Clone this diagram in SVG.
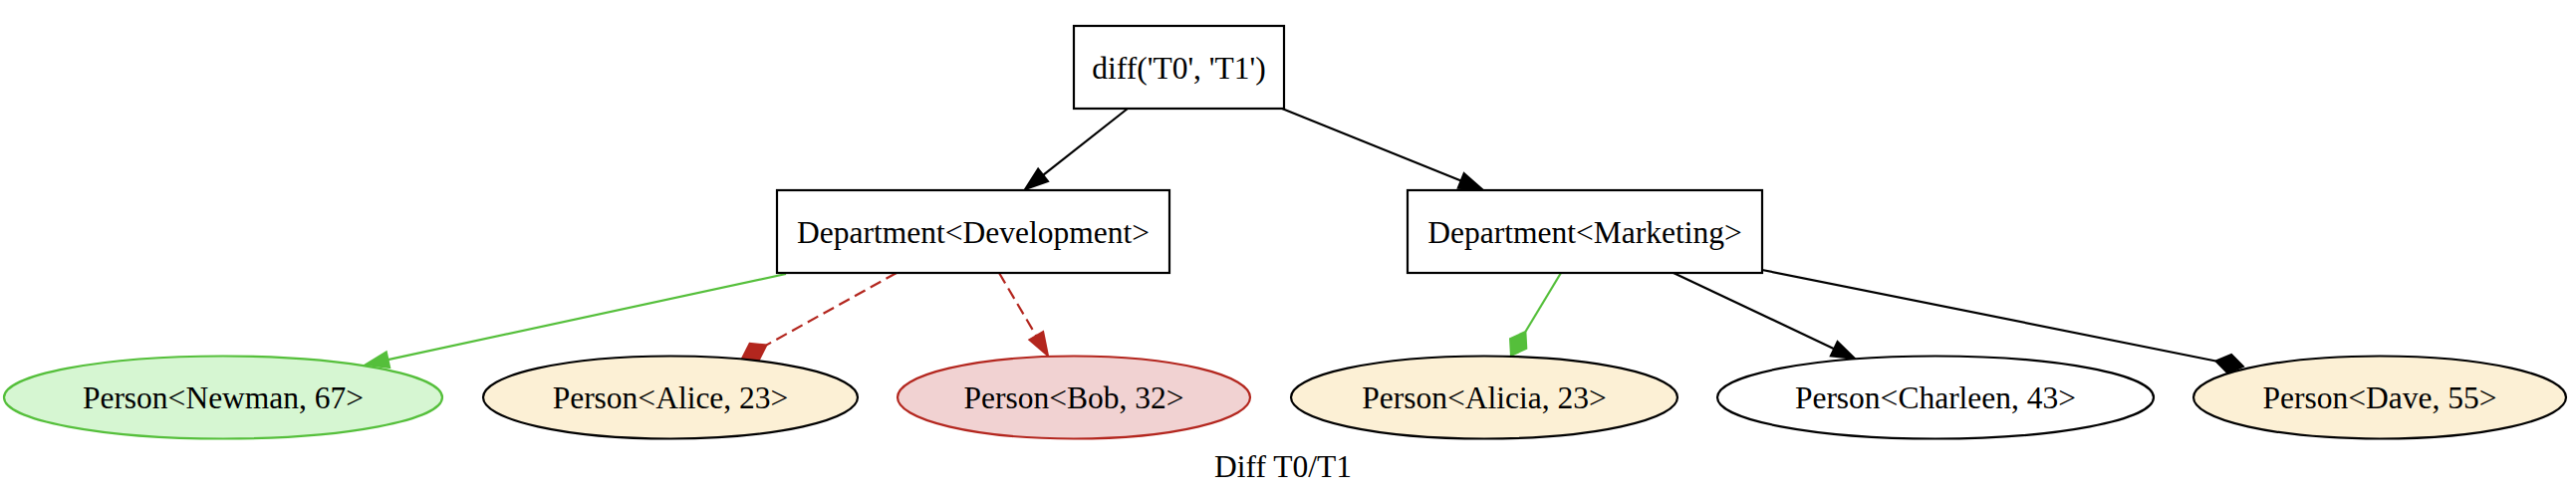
<svg xmlns="http://www.w3.org/2000/svg" width="2586" height="498" viewBox="0 0 2586 498">
<style>
text{font-family:"Liberation Serif","Times New Roman",serif;font-size:31.5px;text-anchor:middle;fill:#000}
.box{fill:#fff;stroke:#000;stroke-width:2.2}
.ell{stroke-width:2.2}
.plain{fill:#fff;stroke:#000}
.chg{fill:#fcf0d5;stroke:#000}
.add{fill:#d6f6d2;stroke:#55bf3b}
.del{fill:#f1d2d2;stroke:#b3261e}
.e{fill:none;stroke-width:2.2}
.k{stroke:#000}
.g{stroke:#55bf3b}
.r{stroke:#b3261e;stroke-dasharray:12,6}
</style>
<defs>
<marker id="ak" markerUnits="userSpaceOnUse" orient="auto" markerWidth="40" markerHeight="40" refX="0" refY="0" viewBox="-5 -20 40 40" overflow="visible"><path d="M0,-8 L23,0 L0,8 Z" fill="#000" stroke="#000" stroke-width="2"/></marker>
<marker id="ag" markerUnits="userSpaceOnUse" orient="auto" markerWidth="40" markerHeight="40" refX="0" refY="0" viewBox="-5 -20 40 40" overflow="visible"><path d="M0,-8 L23,0 L0,8 Z" fill="#55bf3b" stroke="#55bf3b" stroke-width="2"/></marker>
<marker id="ar" markerUnits="userSpaceOnUse" orient="auto" markerWidth="40" markerHeight="40" refX="0" refY="0" viewBox="-5 -20 40 40" overflow="visible"><path d="M0,-8 L23,0 L0,8 Z" fill="#b3261e" stroke="#b3261e" stroke-width="2"/></marker>
<marker id="dk" markerUnits="userSpaceOnUse" orient="auto" markerWidth="40" markerHeight="40" refX="0" refY="0" viewBox="-5 -20 40 40" overflow="visible"><path d="M0,0 L14,-9.5 L28,0 L14,9.5 Z" fill="#000" stroke="#000" stroke-width="2"/></marker>
<marker id="dg" markerUnits="userSpaceOnUse" orient="auto" markerWidth="40" markerHeight="40" refX="0" refY="0" viewBox="-5 -20 40 40" overflow="visible"><path d="M0,0 L14,-9.5 L28,0 L14,9.5 Z" fill="#55bf3b" stroke="#55bf3b" stroke-width="2"/></marker>
<marker id="dr" markerUnits="userSpaceOnUse" orient="auto" markerWidth="40" markerHeight="40" refX="0" refY="0" viewBox="-5 -20 40 40" overflow="visible"><path d="M0,0 L14,-9.5 L28,0 L14,9.5 Z" fill="#b3261e" stroke="#b3261e" stroke-width="2"/></marker>
</defs>
<rect width="2586" height="498" fill="#fff"/>
<g id="connectors">
<path class="e k" d="M1132,109 L1047.1,175.8" marker-end="url(#ak)"/>
<path class="e k" d="M1287,109 L1466.7,181.4" marker-end="url(#ak)"/>
<path class="e g" d="M789,275 L389.5,361.2" marker-end="url(#ag)"/>
<path class="e r" d="M900,274 L769.5,346.4" marker-end="url(#dr)"/>
<path class="e r" d="M1003,274 L1040.3,337.2" marker-end="url(#ar)"/>
<path class="e g" d="M1567,274 L1531.4,333" marker-end="url(#dg)"/>
<path class="e k" d="M1680,274 L1841.2,350.2" marker-end="url(#ak)"/>
<path class="e k" d="M1769,271 L2224.5,362.5" marker-end="url(#dk)"/>
</g>
<g id="root"><rect class="box" x="1078" y="26" width="211" height="83"/><text x="1183.5" y="78.5">diff('T0', 'T1')</text></g>
<g id="dept-development"><rect class="box" x="780" y="191" width="394" height="83"/><text x="977" y="243.5">Department&lt;Development&gt;</text></g>
<g id="dept-marketing"><rect class="box" x="1413" y="191" width="356" height="83"/><text x="1591" y="243.5">Department&lt;Marketing&gt;</text></g>
<g id="person-newman"><ellipse class="ell add" cx="224" cy="399" rx="220" ry="41.5"/><text x="224" y="409.5">Person&lt;Newman, 67&gt;</text></g>
<g id="person-alice"><ellipse class="ell chg" cx="673" cy="399" rx="188" ry="41.5"/><text x="673" y="409.5">Person&lt;Alice, 23&gt;</text></g>
<g id="person-bob"><ellipse class="ell del" cx="1078" cy="399" rx="177" ry="41.5"/><text x="1078" y="409.5">Person&lt;Bob, 32&gt;</text></g>
<g id="person-alicia"><ellipse class="ell chg" cx="1490" cy="399" rx="194" ry="41.5"/><text x="1490" y="409.5">Person&lt;Alicia, 23&gt;</text></g>
<g id="person-charleen"><ellipse class="ell plain" cx="1943" cy="399" rx="219" ry="41.5"/><text x="1943" y="409.5">Person&lt;Charleen, 43&gt;</text></g>
<g id="person-dave"><ellipse class="ell chg" cx="2389" cy="399" rx="187" ry="41.5"/><text x="2389" y="409.5">Person&lt;Dave, 55&gt;</text></g>
<g id="caption"><text x="1288" y="479">Diff T0/T1</text></g>
</svg>
